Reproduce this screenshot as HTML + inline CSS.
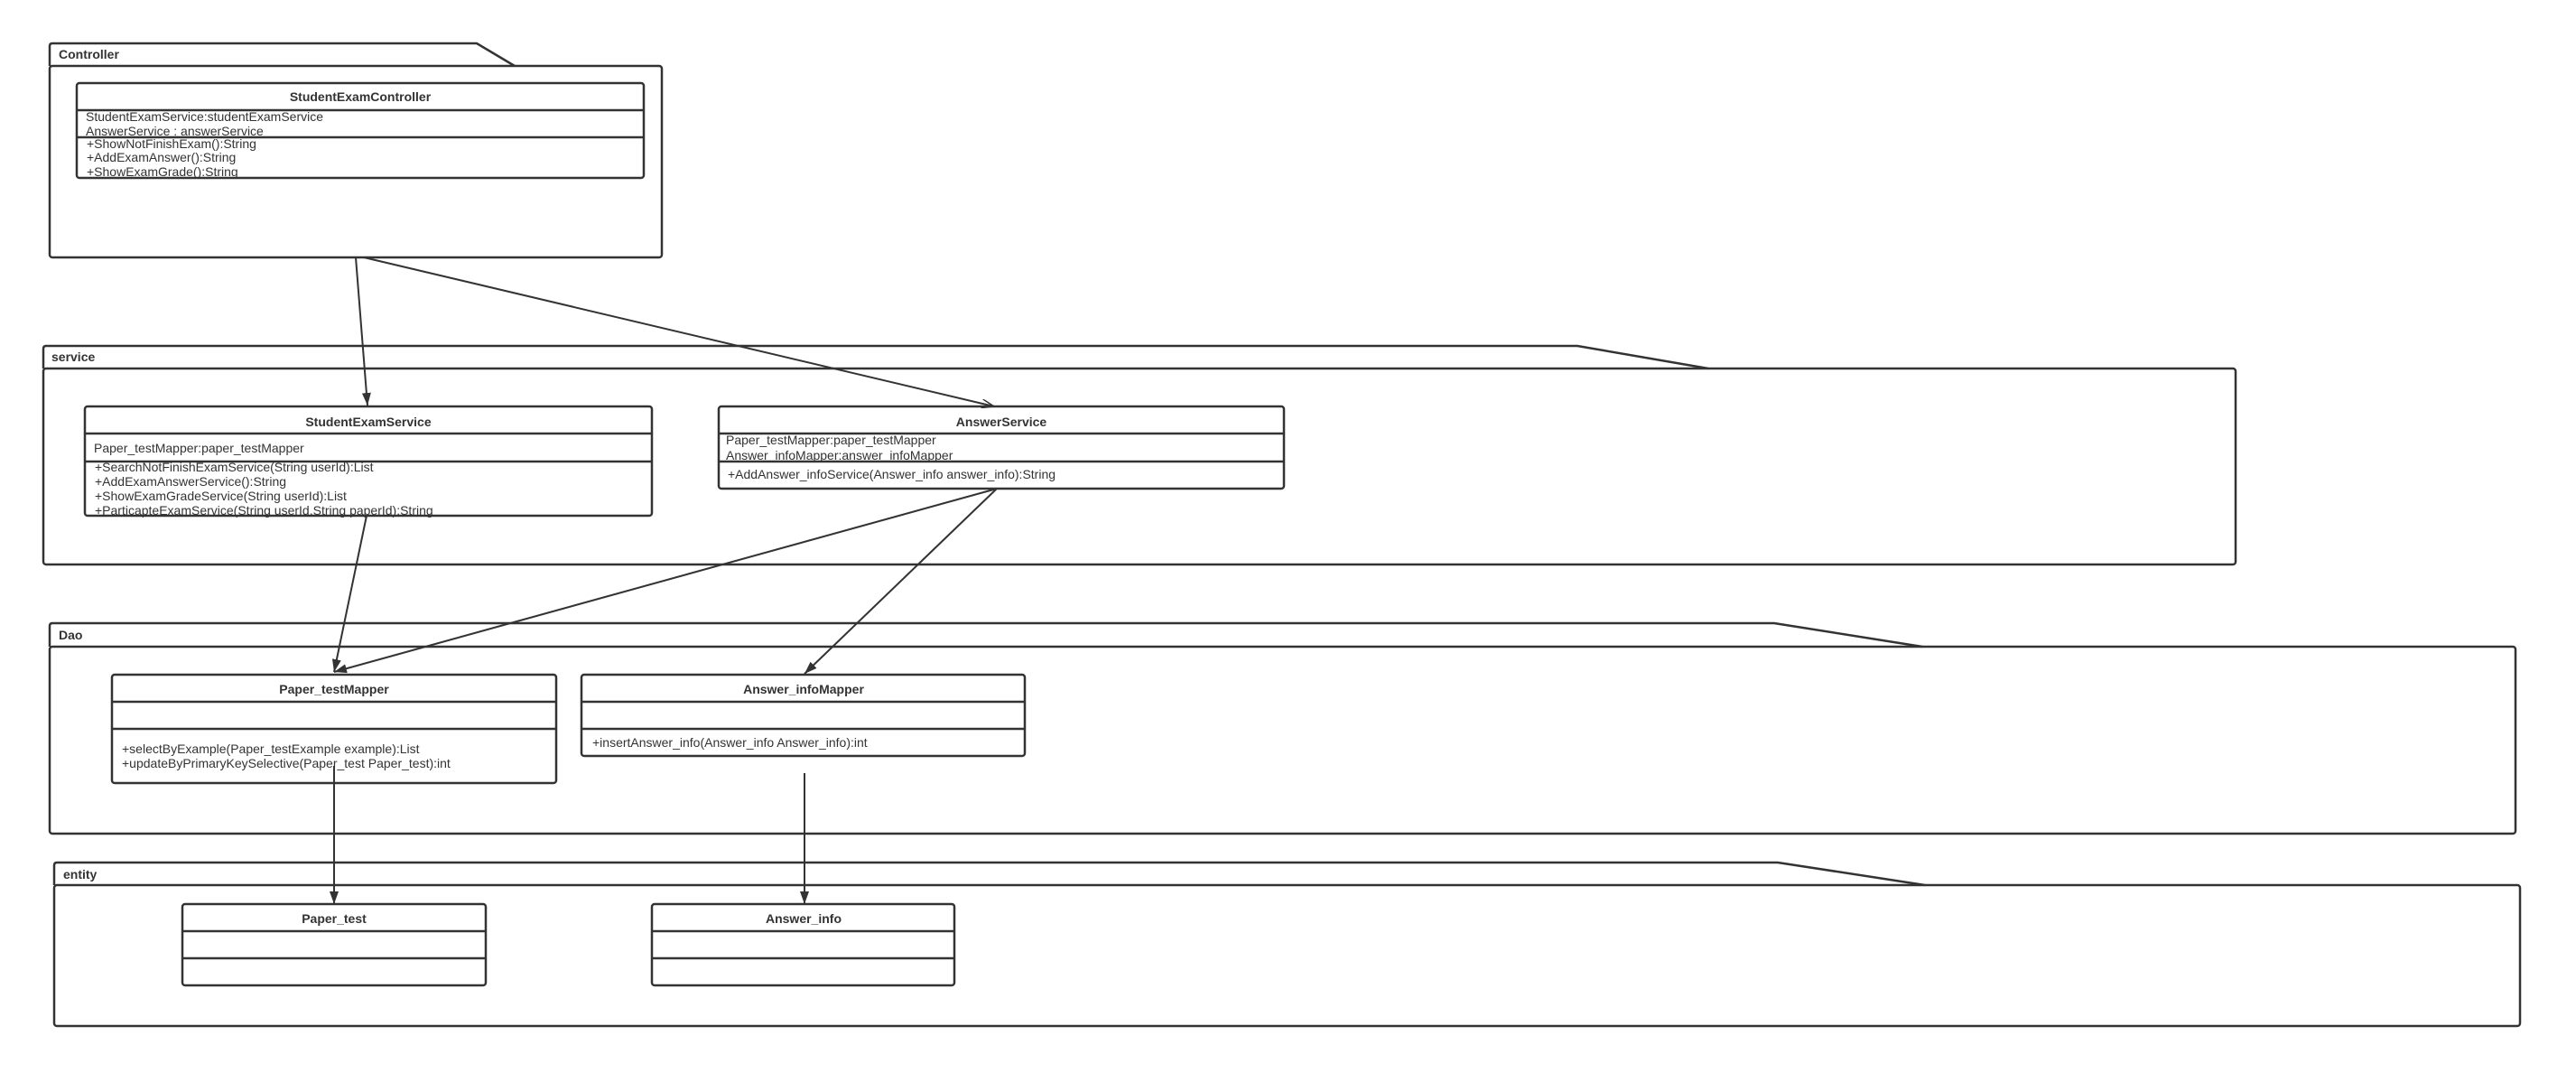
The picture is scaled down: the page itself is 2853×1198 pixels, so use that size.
<!DOCTYPE html>
<html><head><meta charset="utf-8"><style>
html,body{margin:0;padding:0;background:#fff;}
svg{display:block;}
text{font-family:"Liberation Sans",sans-serif;fill:#333;font-size:14px;}
.b{font-weight:bold;font-size:14px;}
</style></head><body>
<svg width="2853" height="1198" viewBox="0 0 2853 1198" xmlns="http://www.w3.org/2000/svg">
<defs>
<marker id="f" viewBox="0 0 14 10" refX="14" refY="5" markerWidth="14" markerHeight="10" markerUnits="userSpaceOnUse" orient="auto"><path d="M0,0 L14,5 L0,10 z" fill="#333"/></marker>
<marker id="o" viewBox="0 0 14 10" refX="14" refY="5" markerWidth="14" markerHeight="10" markerUnits="userSpaceOnUse" orient="auto"><path d="M0,0 L14,5 L0,10" fill="none" stroke="#333" stroke-width="1.5"/></marker>
</defs>
<g fill="none" stroke="#333" stroke-width="2.5">
<path d="M55,73 L55,51 Q55,48 58,48 L528,48 L570,73"/>
<rect x="55" y="73" width="678" height="212" rx="3"/>
<path d="M48,408 L48,386 Q48,383 51,383 L1747,383 L1892,408"/>
<rect x="48" y="408" width="2428" height="217" rx="3"/>
<path d="M55,716 L55,693 Q55,690 58,690 L1965,690 L2129,716"/>
<rect x="55" y="716" width="2731" height="207" rx="3"/>
<path d="M60,980 L60,958 Q60,955 63,955 L1969,955 L2132,980"/>
<rect x="60" y="980" width="2731" height="156" rx="3"/>
<rect x="85" y="92" width="628" height="105" rx="3"/><line x1="85" y1="122" x2="713" y2="122"/><line x1="85" y1="152" x2="713" y2="152"/>
<rect x="94" y="450" width="628" height="121" rx="3"/><line x1="94" y1="480" x2="722" y2="480"/><line x1="94" y1="511" x2="722" y2="511"/>
<rect x="796" y="450" width="626" height="91" rx="3"/><line x1="796" y1="480" x2="1422" y2="480"/><line x1="796" y1="511" x2="1422" y2="511"/>
<rect x="124" y="747" width="492" height="120" rx="3"/><line x1="124" y1="777" x2="616" y2="777"/><line x1="124" y1="807" x2="616" y2="807"/>
<rect x="644" y="747" width="491" height="90" rx="3"/><line x1="644" y1="777" x2="1135" y2="777"/><line x1="644" y1="807" x2="1135" y2="807"/>
<rect x="202" y="1001" width="336" height="90" rx="3"/><line x1="202" y1="1031" x2="538" y2="1031"/><line x1="202" y1="1061" x2="538" y2="1061"/>
<rect x="722" y="1001" width="335" height="90" rx="3"/><line x1="722" y1="1031" x2="1057" y2="1031"/><line x1="722" y1="1061" x2="1057" y2="1061"/>
</g>
<g stroke="#333" stroke-width="2" fill="none">
<line x1="394" y1="285" x2="407" y2="449" marker-end="url(#f)"/>
<line x1="403" y1="285" x2="1101" y2="450" marker-end="url(#o)"/>
<line x1="406" y1="571" x2="370" y2="744" marker-end="url(#f)"/>
<line x1="1104" y1="541" x2="370" y2="744" marker-end="url(#f)"/>
<line x1="1104" y1="541" x2="891" y2="746" marker-end="url(#f)"/>
<line x1="370" y1="848" x2="370" y2="1001" marker-end="url(#f)"/>
<line x1="891" y1="856" x2="891" y2="1001" marker-end="url(#f)"/>
</g>
<text class="b" x="65" y="65">Controller</text>
<text class="b" x="57" y="400">service</text>
<text class="b" x="65" y="708">Dao</text>
<text class="b" x="70" y="973">entity</text>

<text class="b" x="399" y="112" text-anchor="middle">StudentExamController</text>
<text x="95" y="134">StudentExamService:studentExamService</text>
<text x="95" y="150">AnswerService : answerService</text>
<text x="96" y="164">+ShowNotFinishExam():String</text>
<text x="96" y="179">+AddExamAnswer():String</text>
<text x="96" y="195">+ShowExamGrade():String</text>

<text class="b" x="408" y="472" text-anchor="middle">StudentExamService</text>
<text x="104" y="501">Paper_testMapper:paper_testMapper</text>
<text x="105" y="522">+SearchNotFinishExamService(String userId):List</text>
<text x="105" y="538">+AddExamAnswerService():String</text>
<text x="105" y="554">+ShowExamGradeService(String userId):List</text>
<text x="105" y="570">+ParticapteExamService(String userId,String paperId):String</text>

<text class="b" x="1109" y="472" text-anchor="middle">AnswerService</text>
<text x="804" y="492">Paper_testMapper:paper_testMapper</text>
<text x="804" y="509">Answer_infoMapper:answer_infoMapper</text>
<text x="806" y="530">+AddAnswer_infoService(Answer_info answer_info):String</text>

<text class="b" x="370" y="768" text-anchor="middle">Paper_testMapper</text>
<text x="135" y="834">+selectByExample(Paper_testExample example):List</text>
<text x="135" y="850">+updateByPrimaryKeySelective(Paper_test Paper_test):int</text>

<text class="b" x="890" y="768" text-anchor="middle">Answer_infoMapper</text>
<text x="656" y="827">+insertAnswer_info(Answer_info Answer_info):int</text>

<text class="b" x="370" y="1022" text-anchor="middle">Paper_test</text>
<text class="b" x="890" y="1022" text-anchor="middle">Answer_info</text>
</svg>
</body></html>
